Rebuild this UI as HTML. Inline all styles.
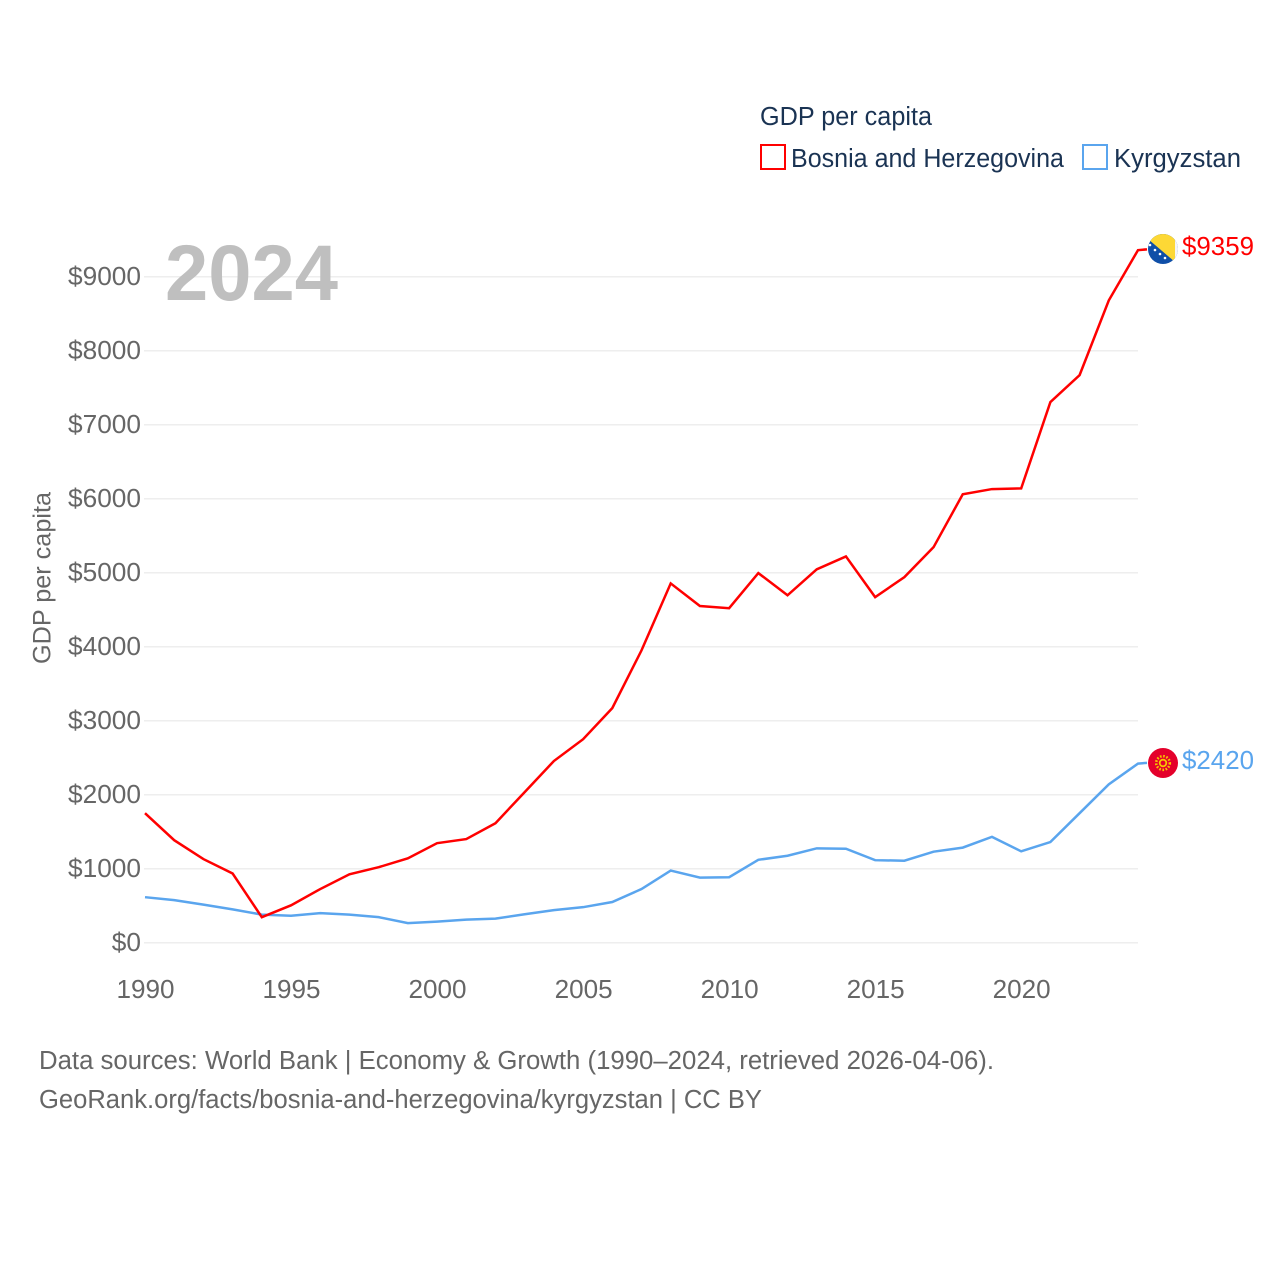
<!DOCTYPE html>
<html>
<head>
<meta charset="utf-8">
<title>GDP per capita</title>
<style>
html,body{margin:0;padding:0;background:#fff;}
svg{display:block;font-family:"Liberation Sans",sans-serif;}
</style>
</head>
<body>
<svg id="chart" width="1280" height="1280" viewBox="0 0 1280 1280" xmlns="http://www.w3.org/2000/svg">
<defs>
<clipPath id="clip-ba"><circle cx="1163" cy="249" r="15"/></clipPath>
</defs>
<g id="grid"></g>
<g id="y-ticks"></g>
<g id="x-ticks"></g>
<text x="165" y="300" font-size="79" font-weight="bold" fill="#bfbfbf" textLength="173" lengthAdjust="spacingAndGlyphs">2024</text>
<text transform="translate(50.5,664) rotate(-90)" font-size="25" fill="#666666" textLength="172" lengthAdjust="spacingAndGlyphs">GDP per capita</text>
<g id="series"></g>

<g clip-path="url(#clip-ba)">
<rect x="1147" y="233" width="32" height="32" fill="#0f4fa8"/>
<polygon points="1141,233 1175,233 1175,262" fill="#fdd835"/>
<rect x="1175" y="233" width="4" height="32" fill="#f5f5f5"/>
<circle cx="1150" cy="245" r="1.3" fill="#fff"/>
<circle cx="1155" cy="250" r="1.3" fill="#fff"/>
<circle cx="1160" cy="254" r="1.3" fill="#fff"/>
<circle cx="1165" cy="258" r="1.3" fill="#fff"/>
</g>
<g>
<circle cx="1163" cy="763" r="15" fill="#e4002b"/>
<circle cx="1163" cy="763" r="6.8" fill="none" stroke="#f7c600" stroke-width="2.6" stroke-dasharray="1.6 1.6"/>
<circle cx="1163" cy="763" r="4.2" fill="#f7c600"/>
<circle cx="1163" cy="763" r="2.4" fill="#e4002b"/>
</g>

<text x="1182" y="255" font-size="26" fill="#ff0000" textLength="72" lengthAdjust="spacingAndGlyphs">$9359</text>
<text x="1182" y="769" font-size="26" fill="#5aa5ee" textLength="72" lengthAdjust="spacingAndGlyphs">$2420</text>

<g>
<text x="760" y="125" font-size="25.5" fill="#1a3353" textLength="172" lengthAdjust="spacingAndGlyphs">GDP per capita</text>
<rect x="761" y="145" width="24" height="24" fill="none" stroke="#ff0000" stroke-width="2"/>
<text x="791" y="167" font-size="25.5" fill="#1a3353" textLength="273" lengthAdjust="spacingAndGlyphs">Bosnia and Herzegovina</text>
<rect x="1083" y="145" width="24" height="24" fill="none" stroke="#5aa5ee" stroke-width="2"/>
<text x="1114" y="167" font-size="25.5" fill="#1a3353" textLength="127" lengthAdjust="spacingAndGlyphs">Kyrgyzstan</text>
</g>

<text x="39" y="1069" font-size="25.5" fill="#666666" textLength="955" lengthAdjust="spacingAndGlyphs">Data sources: World Bank | Economy &amp; Growth (1990–2024, retrieved 2026-04-06).</text>
<text x="39" y="1108" font-size="25.5" fill="#666666" textLength="723" lengthAdjust="spacingAndGlyphs">GeoRank.org/facts/bosnia-and-herzegovina/kyrgyzstan | CC BY</text>

<script>
var years = [1990,1991,1992,1993,1994,1995,1996,1997,1998,1999,2000,2001,2002,2003,2004,2005,2006,2007,2008,2009,2010,2011,2012,2013,2014,2015,2016,2017,2018,2019,2020,2021,2022,2023,2024];
var bosniaValues = [1750,1385,1130,935,345,505,725,925,1020,1140,1345,1400,1615,2035,2455,2750,3170,3950,4855,4550,4520,4995,4695,5045,5220,4670,4940,5345,6060,6130,6140,7305,7670,8680,9359];
var kyrgyzstanValues = [615,575,515,450,380,365,400,380,345,265,285,312,325,385,440,480,550,725,975,880,885,1120,1175,1275,1270,1115,1108,1230,1285,1430,1235,1360,1750,2140,2420];
var yTickValues = [0,1000,2000,3000,4000,5000,6000,7000,8000,9000];
var xTickValues = [1990,1995,2000,2005,2010,2015,2020];

var NS = 'http://www.w3.org/2000/svg';
function xScale(year){ return 145 + (year - 1990) * (1138 - 145) / 34; }
function yScale(value){ return 942.7 - value * 0.074; }

var gridGroup = document.getElementById('grid');
var yGroup = document.getElementById('y-ticks');
var xGroup = document.getElementById('x-ticks');
var seriesGroup = document.getElementById('series');

yTickValues.forEach(function(v){
  var line = document.createElementNS(NS, 'line');
  
  
  line.setAttribute('x1', 144);
  line.setAttribute('x2', 1138);
  line.setAttribute('y1', yScale(v));
  line.setAttribute('y2', yScale(v));
  line.setAttribute('stroke', '#eeeeee');
  line.setAttribute('stroke-width', 1.5);
  gridGroup.appendChild(line);

  var label = '$' + v;
  var t = document.createElementNS(NS, 'text');
  
  
  t.setAttribute('x', 141);
  t.setAttribute('y', yScale(v) + 8.2);
  t.setAttribute('text-anchor', 'end');
  t.setAttribute('font-size', 25.5);
  t.setAttribute('fill', '#666666');
  t.setAttribute('textLength', 14.6 * label.length);
  t.setAttribute('lengthAdjust', 'spacingAndGlyphs');
  t.textContent = label;
  yGroup.appendChild(t);
});

xTickValues.forEach(function(y){
  var t = document.createElementNS(NS, 'text');
  
  
  t.setAttribute('x', xScale(y) + 0.5);
  t.setAttribute('y', 998);
  t.setAttribute('text-anchor', 'middle');
  t.setAttribute('font-size', 25.5);
  t.setAttribute('fill', '#666666');
  t.setAttribute('textLength', 58);
  t.setAttribute('lengthAdjust', 'spacingAndGlyphs');
  t.textContent = String(y);
  xGroup.appendChild(t);
});

function linePoints(values){
  var pts = values.map(function(v, i){ return xScale(years[i]).toFixed(2) + ',' + yScale(v).toFixed(2); });
  var last = values[values.length - 1];
  pts.push((xScale(years[years.length - 1]) + 9).toFixed(2) + ',' + (yScale(last) - 0.8).toFixed(2));
  return pts.join(' ');
}

var kyrgyzLine = document.createElementNS(NS, 'polyline');


kyrgyzLine.setAttribute('points', linePoints(kyrgyzstanValues));
kyrgyzLine.setAttribute('fill', 'none');
kyrgyzLine.setAttribute('stroke', '#5aa5ee');
kyrgyzLine.setAttribute('stroke-width', 2.5);
seriesGroup.appendChild(kyrgyzLine);

var bosniaLine = document.createElementNS(NS, 'polyline');


bosniaLine.setAttribute('points', linePoints(bosniaValues));
bosniaLine.setAttribute('fill', 'none');
bosniaLine.setAttribute('stroke', '#ff0000');
bosniaLine.setAttribute('stroke-width', 2.5);
seriesGroup.appendChild(bosniaLine);
</script>
</svg>
</body>
</html>
